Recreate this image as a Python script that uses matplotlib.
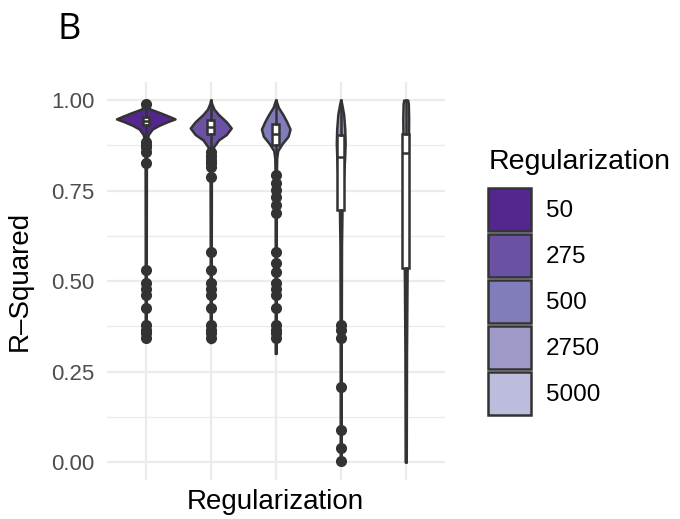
import matplotlib
matplotlib.use("Agg")
import matplotlib.pyplot as plt
from matplotlib.patches import Patch

plt.rcParams["font.family"] = ["Liberation Sans", "DejaVu Sans"]

# groups and colours
groups = ["50", "275", "500", "2750", "5000"]
colors = ["#54278F", "#6A51A3", "#807DBA", "#9E9AC8", "#BCBDDC"]

# violin outlines: R-squared levels and half widths
violin_y = [
    [0.335, 0.6, 0.85, 0.89, 0.905, 0.92, 0.93, 0.94, 0.948, 0.955, 0.965, 0.975, 0.985, 0.99],
    [0.33, 0.6, 0.80, 0.85, 0.87, 0.89, 0.905, 0.923, 0.94, 0.96, 0.975, 0.99, 1.0],
    [0.30, 0.6, 0.80, 0.84, 0.86, 0.88, 0.90, 0.92, 0.94, 0.96, 0.98, 1.0],
    [0.0, 0.3, 0.6, 0.7, 0.78, 0.84, 0.88, 0.92, 0.96, 0.99, 1.0],
    [0.0, 0.3, 0.5, 0.7, 0.85, 0.95, 0.99, 1.0],
]
violin_w = [
    [0.008, 0.008, 0.01, 0.02, 0.04, 0.1, 0.2, 0.33, 0.45, 0.36, 0.22, 0.07, 0.02, 0.005],
    [0.008, 0.008, 0.01, 0.015, 0.04, 0.12, 0.24, 0.315, 0.24, 0.12, 0.05, 0.015, 0.003],
    [0.008, 0.008, 0.01, 0.015, 0.03, 0.1, 0.19, 0.22, 0.17, 0.11, 0.04, 0.003],
    [0.008, 0.008, 0.012, 0.02, 0.04, 0.06, 0.068, 0.062, 0.045, 0.015, 0.003],
    [0.008, 0.012, 0.02, 0.03, 0.04, 0.045, 0.04, 0.03],
]

# box statistics
q1 = [0.931, 0.905, 0.875, 0.696, 0.536]
med = [0.941, 0.926, 0.905, 0.843, 0.853]
q3 = [0.953, 0.945, 0.935, 0.903, 0.907]
whislo = [0.893, 0.86, 0.80, 0.40, 0.0]
whishi = [0.982, 1.0, 1.0, 1.0, 1.0]
outliers = [
    [0.99, 0.884, 0.877, 0.870, 0.856, 0.826, 0.530, 0.494, 0.478, 0.461, 0.425, 0.378, 0.366, 0.356, 0.343],
    [0.856, 0.845, 0.834, 0.825, 0.815, 0.787, 0.580, 0.530, 0.494, 0.478, 0.461, 0.425, 0.378, 0.366, 0.356, 0.343],
    [0.793, 0.771, 0.751, 0.732, 0.710, 0.688, 0.580, 0.550, 0.525, 0.494, 0.478, 0.461, 0.425, 0.378, 0.366, 0.356, 0.343],
    [0.378, 0.365, 0.343, 0.207, 0.088, 0.039, 0.003],
    [],
]

yticks = [0.0, 0.25, 0.5, 0.75, 1.0]
ytick_labels = ["0.00", "0.25", "0.50", "0.75", "1.00"]

outline = "#333333"
lw = 1.8

fig = plt.figure(figsize=(6.8, 5.19), dpi=100)
ax = fig.add_axes([0.157, 0.075, 0.497, 0.767])

positions = list(range(1, len(groups) + 1))

# violins
for pos, ys, ws, col in zip(positions, violin_y, violin_w, colors):
    left = [pos - w for w in ws]
    right = [pos + w for w in ws]
    ax.fill_betweenx(ys, left, right, facecolor=col, edgecolor=outline,
                     linewidth=lw, zorder=2)

# boxplots
stats = []
for i in range(len(groups)):
    stats.append({"med": med[i], "q1": q1[i], "q3": q3[i],
                  "whislo": whislo[i], "whishi": whishi[i],
                  "fliers": outliers[i]})
ax.bxp(stats, positions=positions, widths=0.1, patch_artist=True,
       showcaps=False, manage_ticks=False,
       boxprops=dict(facecolor="white", edgecolor=outline, linewidth=lw),
       medianprops=dict(color=outline, linewidth=lw),
       whiskerprops=dict(color=outline, linewidth=lw),
       flierprops=dict(marker="o", markerfacecolor=outline, markeredgecolor=outline,
                       markersize=7, linestyle="none"),
       zorder=3)

# axes styling (theme_minimal look)
ax.set_xlim(0.4, 5.6)
ax.set_ylim(-0.05, 1.05)
ax.set_xticks(positions)
ax.set_xticklabels([])
ax.set_yticks(yticks)
ax.set_yticklabels(ytick_labels, fontsize=16, color="#4D4D4D")
ax.set_yticks([0.125, 0.375, 0.625, 0.875], minor=True)
ax.tick_params(axis="both", which="both", length=0, pad=9)
ax.grid(axis="both", which="major", color="#EBEBEB", linewidth=1.6, zorder=0)
ax.grid(axis="y", which="minor", color="#EBEBEB", linewidth=0.9, zorder=0)
ax.set_axisbelow(True)
for side in ["top", "right", "bottom", "left"]:
    ax.spines[side].set_visible(False)

ax.set_xlabel("Regularization", fontsize=20, va="center")
ax.xaxis.set_label_coords(0.5, -0.056)
ax.set_ylabel("R\u2013Squared", fontsize=20, va="center")
ax.yaxis.set_label_coords(-0.257, 0.5)

# legend
handles = [Patch(facecolor=c, edgecolor=outline, linewidth=lw, label=g)
           for c, g in zip(colors, groups)]
leg = fig.legend(handles=handles, title="Regularization", loc="upper left",
                 bbox_to_anchor=(0.718, 0.712), frameon=False, fontsize=17.5,
                 title_fontsize=20.5, handlelength=1.77, handleheight=2.35,
                 labelspacing=0.12, handletextpad=0.6, borderpad=0,
                 borderaxespad=0, alignment="left")
leg._legend_box.sep = 9

# panel tag
fig.text(0.085, 0.943, "B", fontsize=26, family=["Open Sans", "DejaVu Sans"],
         ha="left", va="center")

fig.savefig("out.png", dpi=100)
